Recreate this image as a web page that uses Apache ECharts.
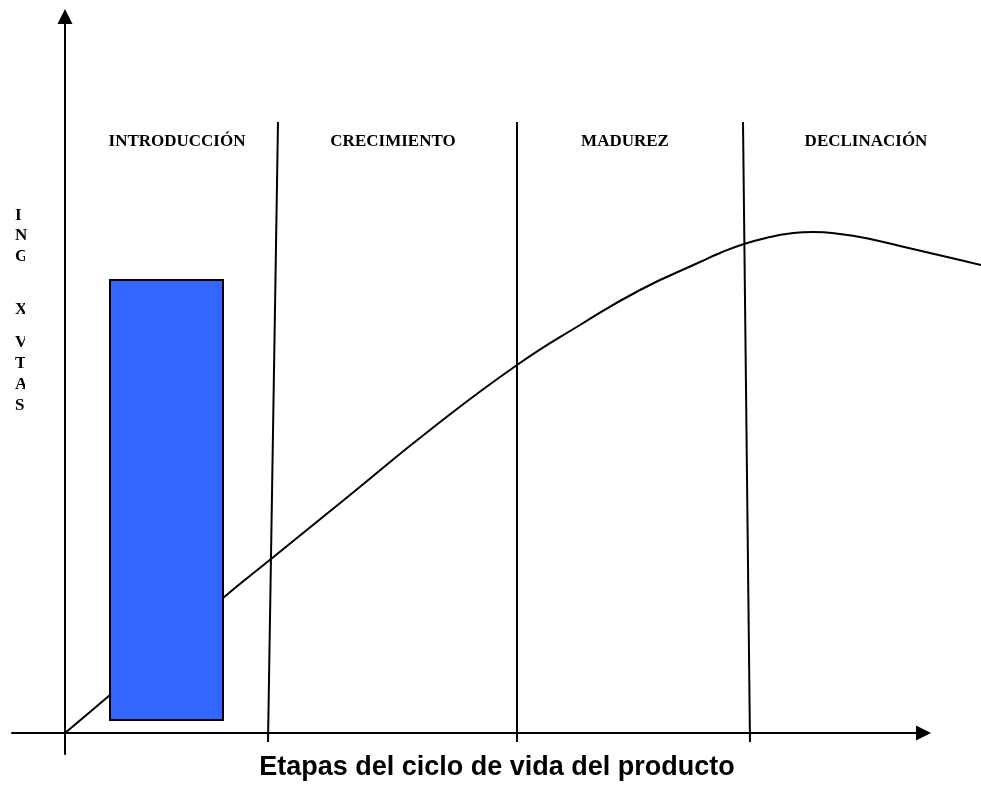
<!DOCTYPE html>
<html>
<head>
<meta charset="utf-8">
<script src="https://cdn.jsdelivr.net/npm/echarts@6/dist/echarts.min.js"></script>
<style>
  html, body { margin: 0; padding: 0; background: #fff; }
  #chart { width: 981px; height: 790px; }
</style>
</head>
<body>
<div id="chart"></div>
<script>
// curva de ventas (x = tiempo, y = ventas)
const curveX = [0, 4.5, 15.8, 20.6, 28.5, 36.5, 45.2, 51.5, 57.5, 63.5, 65.5, 67.9, 70.5, 72.5, 74.8, 77.5, 80.5, 83.5, 86.5, 89.5, 91.6]
const curveY = [0, 3.8, 13.5, 17.4, 23.8, 30.3, 36.8, 40.8, 44.3, 47.1, 48.0, 48.9, 49.6, 49.95, 50.1, 49.9, 49.4, 48.7, 48.0, 47.3, 46.8]

// etapas
const stages = ["INTRODUCCIÓN", "CRECIMIENTO", "MADUREZ", "DECLINACIÓN"]
const stageCenterX = [11.2, 32.8, 56.0, 80.1]
const stageLabelY = 59.1
const stageTopX = [21.3, 45.2, 67.8]
const stageBottomX = [20.3, 45.2, 68.5]
const stageTopY = 61.1
const stageBottomY = -0.9

// barra: [x0, x1, y0, y1]
const barRect = [[4.5, 15.8, 1.3, 45.3]]

const yLetters = ["I", "N", "G", "X", "V", "T", "A", "S"]
const yLetterTop = [207, 227, 248, 301, 334, 355, 376, 397]

const xTitle = "Etapas del ciclo de vida del producto"

let chartEl = echarts.init(document.getElementById("chart"))

const hiddenAxis = {
  type: "value",
  axisLine: { show: false },
  axisTick: { show: false },
  axisLabel: { show: false },
  splitLine: { show: false }
}

function arrowAxis(extra) {
  return Object.assign({
    type: "value",
    axisLine: {
      show: true,
      onZero: true,
      symbol: ["none", "triangle"],
      symbolSize: [15, 15],
      lineStyle: { color: "#000", width: 2 }
    },
    axisTick: { show: false },
    axisLabel: { show: false },
    splitLine: { show: false }
  }, extra)
}

let option = {
  animation: false,
  grid: [
    // datos (la curva sale por la derecha)
    { left: 12, right: 0, top: 16.5, bottom: 36 },
    // ejes con flechas
    { left: 12, right: 57.5, top: 16.5, bottom: 36 }
  ],
  xAxis: [
    Object.assign({}, hiddenAxis, { gridIndex: 0, min: -5.3, max: 91.6 }),
    arrowAxis({ gridIndex: 1, min: -5.3, max: 85.85 })
  ],
  yAxis: [
    Object.assign({}, hiddenAxis, { gridIndex: 0, min: -2.1, max: 71.65 }),
    arrowAxis({ gridIndex: 1, min: -2.1, max: 71.65 })
  ],
  graphic: [
    ...yLetters.map((t, i) => ({
      type: "text",
      left: 15,
      top: yLetterTop[i],
      z: 10,
      style: {
        text: t,
        font: "bold 17px 'Liberation Serif'",
        fill: "#000"
      }
    })),
    {
      // recorte de las letras
      type: "rect",
      shape: { x: 25, y: 246, width: 22, height: 145 },
      style: { fill: "#fff" },
      z: 11
    },
    {
      type: "text",
      x: 497,
      y: 768,
      z: 10,
      style: {
        text: xTitle,
        font: "bold 27px 'Liberation Sans'",
        fill: "#000",
        align: "center",
        verticalAlign: "middle"
      }
    }
  ],
  series: [
    {
      type: "line",
      xAxisIndex: 0,
      yAxisIndex: 0,
      data: curveX.map((x, i) => [x, curveY[i]]),
      smooth: 0.5,
      symbol: "none",
      clip: false,
      lineStyle: { color: "#000", width: 2 },
      z: 2
    },
    {
      type: "lines",
      coordinateSystem: "cartesian2d",
      xAxisIndex: 0,
      yAxisIndex: 0,
      data: stageTopX.map((x, i) => ({
        coords: [[x, stageTopY], [stageBottomX[i], stageBottomY]]
      })),
      lineStyle: { color: "#000", width: 2, opacity: 1 },
      z: 3
    },
    {
      type: "custom",
      xAxisIndex: 0,
      yAxisIndex: 0,
      data: barRect,
      renderItem: function (params, api) {
        let p0 = api.coord([api.value(0), api.value(3)])
        let p1 = api.coord([api.value(1), api.value(2)])
        return {
          type: "rect",
          shape: { x: p0[0], y: p0[1], width: p1[0] - p0[0], height: p1[1] - p0[1] },
          style: { fill: "#3366ff", stroke: "#000", lineWidth: 2 }
        }
      },
      z: 4
    },
    {
      type: "scatter",
      xAxisIndex: 0,
      yAxisIndex: 0,
      data: stageCenterX.map((x, i) => ({ value: [x, stageLabelY], name: stages[i] })),
      symbolSize: 0,
      itemStyle: { opacity: 1 },
      label: {
        show: true,
        position: "inside",
        formatter: "{b}",
        color: "#000",
        fontFamily: "Liberation Serif",
        fontWeight: "bold",
        fontSize: 17
      },
      z: 5
    }
  ]
}
chartEl.setOption(option)
</script>
</body>
</html>
